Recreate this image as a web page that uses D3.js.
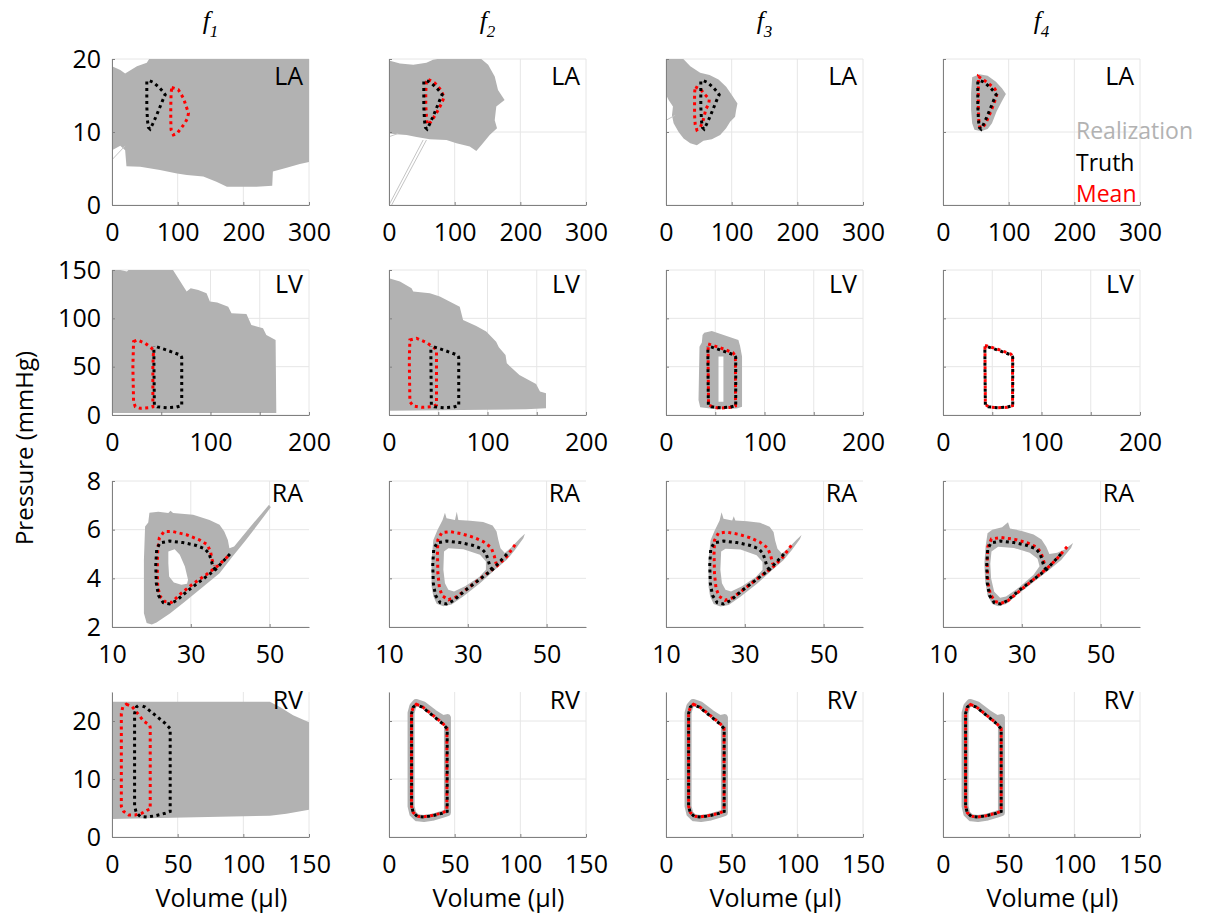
<!DOCTYPE html>
<html>
<head>
<meta charset="utf-8">
<script src="https://cdn.jsdelivr.net/npm/d3@7"></script>
<style>
  body { margin: 0; background: #fff; }
  svg text { font-family: "Open Sans", Lato, sans-serif; }
</style>
</head>
<body>
<svg id="chart" width="1217" height="914"></svg>
<script>
// Pressure-volume loops: realizations (gray), truth (black), mean (red)

const columnTitles = ['1', '2', '3', '4'];
const chambers = ['LA', 'LV', 'RA', 'RV'];
const legendLabels = ['Realization', 'Truth', 'Mean'];

// LA  (volume µl, pressure mmHg)
const laTruth = [[53,17.2],[63,16.8],[72,16.1],[78,15.5],[81,15.1],[77,14.3],[72,13.2],[67,12.1],[62,11.1],[58,10.4],[55.5,10.6],[54,11.6],[53,13.5],[53,15.8]];
const laMean1 = [[91,16.1],[101,15.8],[109,14.6],[113,13.5],[116.5,12.6],[115,11.9],[111,11.2],[105,10.5],[99,9.8],[93.5,9.6],[90,10.3],[89.5,11.6],[89.5,13.5],[90,15.3]];
const laMean2 = [[60,17.2],[70,16.7],[78.5,15.8],[84,14.8],[80,13.9],[73.5,12.8],[67.5,11.9],[62,11.2],[58.5,11],[57,12.1],[56,13.7],[56,15.5],[57,16.9]];
const laMean3 = [[44.5,16.2],[53,15.8],[59.5,15.1],[66,14.5],[65,13.8],[61,13.2],[58.5,12.3],[56,11.4],[52,10.6],[47,10.3],[44.5,11],[43.5,12.3],[43.5,13.9],[43.5,15.3]];
const laMean4 = [[54,17.6],[62.5,17.1],[71.5,16.5],[79,15.9],[82.5,15.3],[79.5,14.4],[74.5,13.2],[69.5,12.1],[64.5,11.1],[59,10.5],[56,10.7],[54.5,11.7],[53.8,13.5],[53.8,15.8]];
const laSpread1 = [[[0,19],[12.6,18.5],[20,18],[38,19],[53,19.5],[58,20.2],[300,20.2],[300,5.9],[286,5.6],[266,5.1],[245,4.6],[244,2.65],[220,2.5],[175,2.5],[159,3.2],[139,3.9],[114,4.1],[99,4.3],[73,4.8],[43,5.25],[22,5.3],[20,7.5],[12.6,8.1],[0,7.5]]];
const laSpread2 = [[[0,19.8],[16.7,19.4],[37,19.2],[57,19.5],[67,19.9],[87.5,20.2],[138,20.2],[151,19.2],[161,17.6],[166,15.75],[176,14.4],[163.4,13.5],[161,11.6],[164.5,10.5],[153.3,9.6],[143,8.45],[133,7.4],[123,8],[102.7,8.45],[87.5,8.9],[62,9],[42,9.3],[26.8,9.6],[11.6,9.7],[0,9.8]]];
const laSpread3 = [[[0,20.2],[24.3,20.2],[37,19],[52,18.1],[66.3,17.8],[80,17.2],[91.6,16.2],[100,15.1],[108.8,13.9],[106.8,13],[105.2,12.1],[97.7,11.4],[91.6,10.5],[82.5,9.6],[69.8,9],[57,8.8],[47,8.2],[37,8.45],[26.8,9.1],[19.2,10],[11.6,11.2],[9.1,12.3],[10.6,13.5],[4,14.4],[0,15.1]]];
const laSpread4 = [[[44.4,17.5],[55.4,17.9],[68,17.7],[80.6,16.9],[89.7,16],[95.8,15.2],[89.7,14.2],[81.6,12.8],[74.6,11.2],[68,10.4],[58,10.1],[47.9,10.3],[44.4,11.2],[42.8,13],[42.8,15.3]]];
const laStray1 = [[[0,6.2],[20,8.1]]];
const laStray2 = [[[0,0],[52,8.9]], [[4,0],[57,8.9]], [[1.5,9.4],[14,9.8]]];
const laStray3 = [[[0,11.6],[14,12.3]]];

// LV
const lvTruth = [[42.5,71.5],[56,67],[69.5,62],[70.8,59.7],[70.8,9.8],[65.5,8.2],[55.5,7.6],[46,8.4],[43,10.5],[42.6,50]];
const lvMean1 = [[21.9,75.9],[25.9,77.6],[33.7,74.2],[40.4,69],[42.1,65.6],[41.5,50],[41.5,8.6],[37.1,7.6],[28.6,6.9],[23.6,8.6],[21.9,13.8],[21.2,50]];
const lvMean2 = [[21.2,77.6],[28,79.4],[38.1,74.9],[46.5,69],[48.2,65.6],[48.2,10.4],[44.1,8.6],[33,7.9],[24.6,9.3],[21.2,13.8],[20.6,56.9]];
const lvMean3 = [[42.8,73.5],[55,69.5],[68,64.5],[70.5,60.5],[70.6,9.5],[65,7.8],[54,7.2],[47,8.3],[43.2,11],[42.8,50]];
const lvMean4 = [[42.6,72],[55.5,68],[69,63],[70.6,60],[70.6,9.7],[65.3,8],[55,7.4],[46.5,8.4],[43,10.8],[42.7,50]];
const lvSpread1 = [[[0,152],[15.2,148.4],[18.5,152],[60.7,152],[75.8,127.7],[79.9,131.1],[87.6,129.4],[96,126],[99.4,117.3],[106.8,116.3],[118,112.1],[121.3,105.2],[136.5,104.5],[141.5,93.2],[153.3,89.7],[156.7,82.8],[166.1,77.6],[166.8,2],[0,2]]];
const lvSpread2 = [[[0,141.5],[11.1,138],[22.9,131.1],[24.6,127.7],[41.5,126],[51.6,122.5],[71.8,112.1],[75.2,98.3],[88.6,92.1],[98.7,86.3],[108.8,75.9],[111.5,70],[118.3,62.1],[119.6,53.5],[132.4,41.4],[149.3,32.1],[153.3,24.2],[159.4,22.4],[159.4,6.9],[139.2,5.9],[0,4.5]]];
const lvSpread3 = [
  [[38.8,85.2],[46.5,86.9],[73.5,77.6],[75.2,71.4],[77.2,60.4],[77.2,8.6],[71.8,6.6],[51.6,5.9],[34.7,7.9],[33,15.5],[34,70.7],[36.4,74.9],[37.1,82.8]],
  [[53.3,60.4],[58.3,60.4],[58.3,13.8],[53.3,13.8]]
];

// RA
const raTruth = [[40.5,5.1],[38.2,4.7],[36.2,4.35],[32.7,3.92],[29.3,3.5],[26.3,3.08],[24.6,2.95],[23,3],[21.8,3.3],[21.25,3.8],[21.1,4.55],[21.35,5.2],[22.2,5.46],[24.6,5.53],[28,5.47],[31.2,5.36],[33.5,5.22],[34.6,5.03],[35.15,4.76],[35.6,4.5],[36.2,4.35]];
const raMean1 = [[39.4,4.9],[36.9,4.52],[33.9,4.15],[30.6,3.78],[27.6,3.39],[25.1,3.01],[23.4,3.05],[22.2,3.26],[21.6,3.67],[21.5,4.35],[21.6,5.17],[22,5.65],[23.2,5.92],[25.5,5.92],[28.9,5.79],[32.2,5.58],[34.2,5.38],[35,5.1],[35.4,4.76],[36,4.52]];
const raMean2 = [[42,5.38],[39.9,4.9],[37.5,4.52],[33.9,4.08],[30.1,3.6],[27,3.23],[25.1,3.12],[23.5,3.28],[22.8,3.6],[22.4,4.21],[22.3,5.03],[22.4,5.58],[23.4,5.88],[25.5,5.92],[28.4,5.83],[31.4,5.69],[33.9,5.51],[35.9,5.27],[36.7,4.93],[37.2,4.6]];
const raMean3 = [[41.8,5.35],[39.7,4.88],[37.4,4.5],[33.8,4.06],[30,3.58],[26.9,3.2],[25,3.1],[23.5,3.26],[22.7,3.58],[22.3,4.2],[22.2,5.02],[22.3,5.56],[23.3,5.86],[25.4,5.9],[28.4,5.81],[31.3,5.67],[33.8,5.49],[35.8,5.25],[36.6,4.92],[37.1,4.58]];
const raMean4 = [[41.5,5.3],[39,4.82],[36.5,4.42],[33,3.96],[29.6,3.5],[26.5,3.08],[24.8,2.98],[23.2,3.05],[22,3.35],[21.4,3.85],[21.2,4.6],[21.4,5.3],[22.3,5.62],[24.8,5.68],[28.2,5.6],[31.3,5.47],[33.6,5.3],[34.8,5.08],[35.4,4.8],[35.8,4.55]];
const raSpread1 = [
  [[18.4,6.13],[19.2,6.29],[19.5,6.7],[21.75,6.74],[24.3,6.68],[24.85,6.78],[25.5,6.68],[30.6,6.61],[34.75,6.4],[37.3,6.2],[38.5,5.92],[39.4,5.58],[39.8,5.24],[41,5.31],[44.8,6.06],[49.85,7.02],[50.3,6.92],[47.3,6.27],[44,5.58],[40.6,4.9],[37.3,4.21],[32.2,3.53],[28,2.98],[24.7,2.55],[21.3,2.19],[20.1,2.1],[18.8,2.16],[18.1,2.57],[18.1,4.76]],
  [[24.3,5.1],[25.9,5.2],[27.2,4.97],[28.5,4.49],[29.3,3.94],[29.05,3.78],[27.6,3.74],[25.7,3.83],[24.5,4.08],[24.3,4.62]]
];
const raSpread2 = [
  [[21.25,5.58],[22.3,5.99],[23.6,6.4],[24.2,6.7],[24.6,6.47],[26.75,6.4],[27.2,6.74],[27.6,6.4],[30.6,6.37],[33.9,6.31],[36.3,6.17],[37.3,5.92],[37.75,5.58],[38.3,5.24],[39.4,5.04],[41.1,5.28],[43.25,5.65],[44.5,5.83],[44.1,5.65],[42,5.17],[39.9,4.76],[36.9,4.35],[33.1,3.8],[28.9,3.26],[25.9,2.92],[23.8,2.85],[22.1,2.96],[21.25,3.26],[20.8,3.67],[20.8,4.76]],
  [[23.96,5.1],[25.06,5.24],[28.87,5.2],[33.1,4.97],[34.6,4.69],[34.6,4.35],[32.9,4.05],[29.3,3.67],[26.5,3.46],[25.06,3.53],[24.2,3.8],[23.8,4.35]]
];
const raSpread3 = [
  [[21.3,5.55],[22.3,5.95],[23.6,6.38],[24.1,6.72],[24.6,6.45],[26.8,6.38],[27.2,6.55],[27.6,6.38],[30.6,6.35],[33.9,6.28],[36.3,6.12],[37.3,5.9],[37.7,5.55],[38.3,5.22],[39.4,5.02],[41.1,5.25],[43.2,5.6],[44.4,5.78],[44,5.62],[41.9,5.15],[39.8,4.74],[36.9,4.33],[33.1,3.78],[28.9,3.24],[25.9,2.9],[23.8,2.84],[22.1,2.95],[21.2,3.25],[20.8,3.66],[20.8,4.75]],
  [[24,5.1],[25.1,5.22],[28.9,5.18],[33,4.95],[34.5,4.67],[34.5,4.35],[32.8,4.05],[29.3,3.67],[26.5,3.46],[25.1,3.53],[24.2,3.8],[23.8,4.35]]
];
const raSpread4 = [
  [[20.8,5.3],[21.3,5.85],[22.5,6.0],[25,6.1],[26.5,6.3],[27,6.05],[30,5.95],[33,5.8],[35,5.6],[36.2,5.3],[37,5.0],[39,5.05],[41,5.2],[43,5.45],[42.5,5.25],[40,4.75],[37,4.35],[33,3.85],[29,3.35],[26,2.95],[24,2.85],[22.5,2.95],[21.3,3.3],[20.7,3.9],[20.5,4.6]],
  [[22.3,5.1],[24,5.3],[28,5.25],[32,5.05],[34,4.8],[34.5,4.5],[33,4.15],[29.5,3.65],[26,3.25],[24.5,3.2],[23,3.45],[22.2,4],[22,4.6]]
];

// RV
const rvTruth = [[21,22.8],[25.3,22.4],[32.9,21],[40.5,19.6],[44.3,18.7],[44.3,4.4],[40.5,4.1],[32.9,3.66],[26.6,3.43],[21.5,3.55],[18.5,4.2],[17.2,5.3],[17.2,21.3],[18.5,22.4]];
const rvMean1 = [[10.9,22.9],[15.2,22.5],[19.5,21.3],[24,20],[28.6,19.3],[29.1,18.9],[29.1,4.8],[26.6,4.6],[22.8,4.1],[17.7,3.8],[12.7,3.8],[8.9,4.4],[7.1,5.3],[7.1,21.3],[8.3,22.5]];
const rvMean2 = [[20.8,22.9],[25.2,22.5],[32.8,21.1],[40.4,19.7],[44.1,18.8],[44.1,4.5],[40.3,4.15],[32.7,3.7],[26.5,3.5],[21.4,3.6],[18.4,4.25],[17.1,5.3],[17.1,21.3],[18.4,22.4]];
const rvMean3 = [[20.9,22.9],[25.3,22.5],[32.9,21.1],[40.5,19.7],[44.2,18.8],[44.2,4.5],[40.4,4.1],[32.8,3.7],[26.6,3.48],[21.5,3.6],[18.5,4.22],[17.2,5.3],[17.2,21.3],[18.5,22.4]];
const rvMean4 = [[21,22.85],[25.3,22.45],[32.9,21.05],[40.5,19.65],[44.3,18.75],[44.3,4.45],[40.5,4.12],[32.9,3.68],[26.6,3.45],[21.5,3.57],[18.5,4.2],[17.2,5.3],[17.2,21.3],[18.5,22.4]];
const rvSpread1 = [[[0,23.3],[120.2,23.3],[127.8,22.4],[137.9,21],[150,19.8],[150,4.7],[132.8,4],[120.2,3.66],[0,3.1]]];
const rvBand = [[20.5,23.2],[26,22.8],[34,21.4],[41,20.4],[44.5,20.6],[44.5,18.6],[44.5,4.2],[40.5,3.9],[32.9,3.4],[26.6,3.2],[21.5,3.3],[18.2,4],[16.8,5.3],[16.8,21.4],[18.2,22.6]];

// axis ranges and ticks per row
const laX = [0, 300], laY = [0, 20], laXTicks = [0, 100, 200, 300], laYTicks = [0, 10, 20];
const lvX = [0, 200], lvY = [0, 150], lvXTicks = [0, 50, 100, 150, 200], lvXLabels = [0, 100, 200], lvYTicks = [0, 50, 100, 150];
const raX = [10, 60], raY = [2, 8], raXTicks = [10, 30, 50], raYTicks = [2, 4, 6, 8];
const rvX = [0, 150], rvY = [0, 25], rvXTicks = [0, 50, 100, 150], rvYTicks = [0, 10, 20];

const rows = [
  { xDomain: laX, yDomain: laY, xTicks: laXTicks, xLabels: laXTicks, yTicks: laYTicks, truth: laTruth, closed: true,
    means: [laMean1, laMean2, laMean3, laMean4], spreads: [laSpread1, laSpread2, laSpread3, laSpread4],
    strays: [laStray1, laStray2, laStray3, []], bands: [null, null, null, null] },
  { xDomain: lvX, yDomain: lvY, xTicks: lvXTicks, xLabels: lvXLabels, yTicks: lvYTicks, truth: lvTruth, closed: true,
    means: [lvMean1, lvMean2, lvMean3, lvMean4], spreads: [lvSpread1, lvSpread2, lvSpread3, null],
    strays: [[], [], [], []], bands: [null, null, null, null] },
  { xDomain: raX, yDomain: raY, xTicks: raXTicks, xLabels: raXTicks, yTicks: raYTicks, truth: raTruth, closed: false,
    means: [raMean1, raMean2, raMean3, raMean4], spreads: [raSpread1, raSpread2, raSpread3, raSpread4],
    strays: [[], [], [], []], bands: [null, null, null, null] },
  { xDomain: rvX, yDomain: rvY, xTicks: rvXTicks, xLabels: rvXTicks, yTicks: rvYTicks, truth: rvTruth, closed: true,
    means: [rvMean1, rvMean2, rvMean3, rvMean4], spreads: [rvSpread1, null, null, null],
    strays: [[], [], [], []], bands: [null, rvBand, rvBand, rvBand] }
];

// layout
const colLeft = [112, 389, 666, 943];
const rowTop = [59, 270, 481, 692];
const rowH = [146, 145, 146, 145];
const panelW = 197;
const labelDy = [26, 23, 21, 17];
const gray = '#b2b2b2';
const axisColor = '#808080';
const gridColor = '#e6e6e6';
const fontSize = '25px';

const svg = d3.select('#chart');
const defs = svg.append('defs');

rows.forEach((row, r) => {
  colLeft.forEach((left, c) => {
    const top = rowTop[r], h = rowH[r];
    const x = d3.scaleLinear().domain(row.xDomain).range([left, left + panelW]);
    const y = d3.scaleLinear().domain(row.yDomain).range([top + h, top]);
    const id = `clip-${r}-${c}`;
    defs.append('clipPath').attr('id', id).append('rect')
      .attr('x', left).attr('y', top).attr('width', panelW).attr('height', h);

    const g = svg.append('g');

    // grid
    g.selectAll('.vgrid').data(row.xTicks).join('line')
      .attr('x1', d => x(d)).attr('x2', d => x(d))
      .attr('y1', top).attr('y2', top + h)
      .attr('stroke', gridColor).attr('stroke-width', 1);
    g.selectAll('.hgrid').data(row.yTicks).join('line')
      .attr('x1', left).attr('x2', left + panelW)
      .attr('y1', d => y(d)).attr('y2', d => y(d))
      .attr('stroke', gridColor).attr('stroke-width', 1);

    const plot = g.append('g').attr('clip-path', `url(#${id})`);
    const line = d3.line().x(d => x(d[0])).y(d => y(d[1]));
    const closedLine = d3.line().x(d => x(d[0])).y(d => y(d[1])).curve(d3.curveLinearClosed);

    const spread = row.spreads[c];
    if (spread) {
      plot.append('path')
        .attr('d', spread.map(ring => closedLine(ring)).join(''))
        .attr('fill', gray).attr('fill-rule', 'evenodd');
    }
    const band = row.bands[c];
    if (band) {
      plot.append('path').attr('d', closedLine(band))
        .attr('fill', 'none').attr('stroke', gray)
        .attr('stroke-width', 7).attr('stroke-linejoin', 'round');
    }
    row.strays[c].forEach(s => {
      plot.append('path').attr('d', line(s))
        .attr('fill', 'none').attr('stroke', '#c4c4c4').attr('stroke-width', 1);
    });

    const loopPath = row.closed ? closedLine : line;
    plot.append('path').attr('d', loopPath(row.means[c]))
      .attr('fill', 'none').attr('stroke', '#ff0000')
      .attr('stroke-width', 3).attr('stroke-dasharray', '3 3.5');
    plot.append('path').attr('d', loopPath(row.truth))
      .attr('fill', 'none').attr('stroke', '#000')
      .attr('stroke-width', 3).attr('stroke-dasharray', '3 3.5')
      .attr('stroke-dashoffset', 3.2);

    // axes
    const xAxis = d3.axisBottom(x).tickValues(row.xTicks)
      .tickFormat(d => row.xLabels.includes(d) ? d : '')
      .tickSizeInner(-3).tickSizeOuter(0).tickPadding(18);
    const yAxis = d3.axisLeft(y).tickValues(row.yTicks)
      .tickFormat(d => c === 0 ? d : '')
      .tickSizeInner(-3).tickSizeOuter(0).tickPadding(11);

    const gx = g.append('g').attr('transform', `translate(0,${top + h})`).call(xAxis);
    const gy = g.append('g').attr('transform', `translate(${left},0)`).call(yAxis);
    [gx, gy].forEach(a => {
      a.select('.domain').attr('stroke', axisColor);
      a.selectAll('.tick line').attr('stroke', axisColor);
      a.selectAll('.tick text').attr('fill', '#000')
        .style('font-size', fontSize).style('font-family', '"Open Sans", Lato, sans-serif');
    });

    // chamber label
    g.append('text')
      .attr('x', left + panelW - 6).attr('y', top + labelDy[r])
      .attr('text-anchor', 'end').style('font-size', fontSize)
      .text(chambers[r]);
  });
});

// column titles f_i
colLeft.forEach((left, c) => {
  const t = svg.append('text')
    .attr('x', left + panelW / 2).attr('y', 29)
    .attr('text-anchor', 'middle')
    .style('font-family', '"Liberation Serif", "DejaVu Serif", serif')
    .style('font-style', 'italic').style('font-size', '26px');
  t.append('tspan').text('f');
  t.append('tspan').attr('dy', 8).style('font-size', '17px').text(columnTitles[c]);
});

// x labels
colLeft.forEach(left => {
  svg.append('text')
    .attr('x', left + panelW / 2 + 11).attr('y', 907)
    .attr('text-anchor', 'middle').style('font-size', fontSize)
    .text('Volume (μl)');
});

// y label
svg.append('text')
  .attr('transform', 'translate(33,448) rotate(-90)')
  .attr('text-anchor', 'middle').style('font-size', '24px')
  .text('Pressure (mmHg)');

// legend
const legendColors = [gray, '#000', '#ff0000'];
const legendY = [139, 170.5, 202];
legendLabels.forEach((lab, i) => {
  svg.append('text')
    .attr('x', 1076).attr('y', legendY[i])
    .style('font-size', '23px').attr('fill', legendColors[i])
    .text(lab);
});
</script>
</body>
</html>
